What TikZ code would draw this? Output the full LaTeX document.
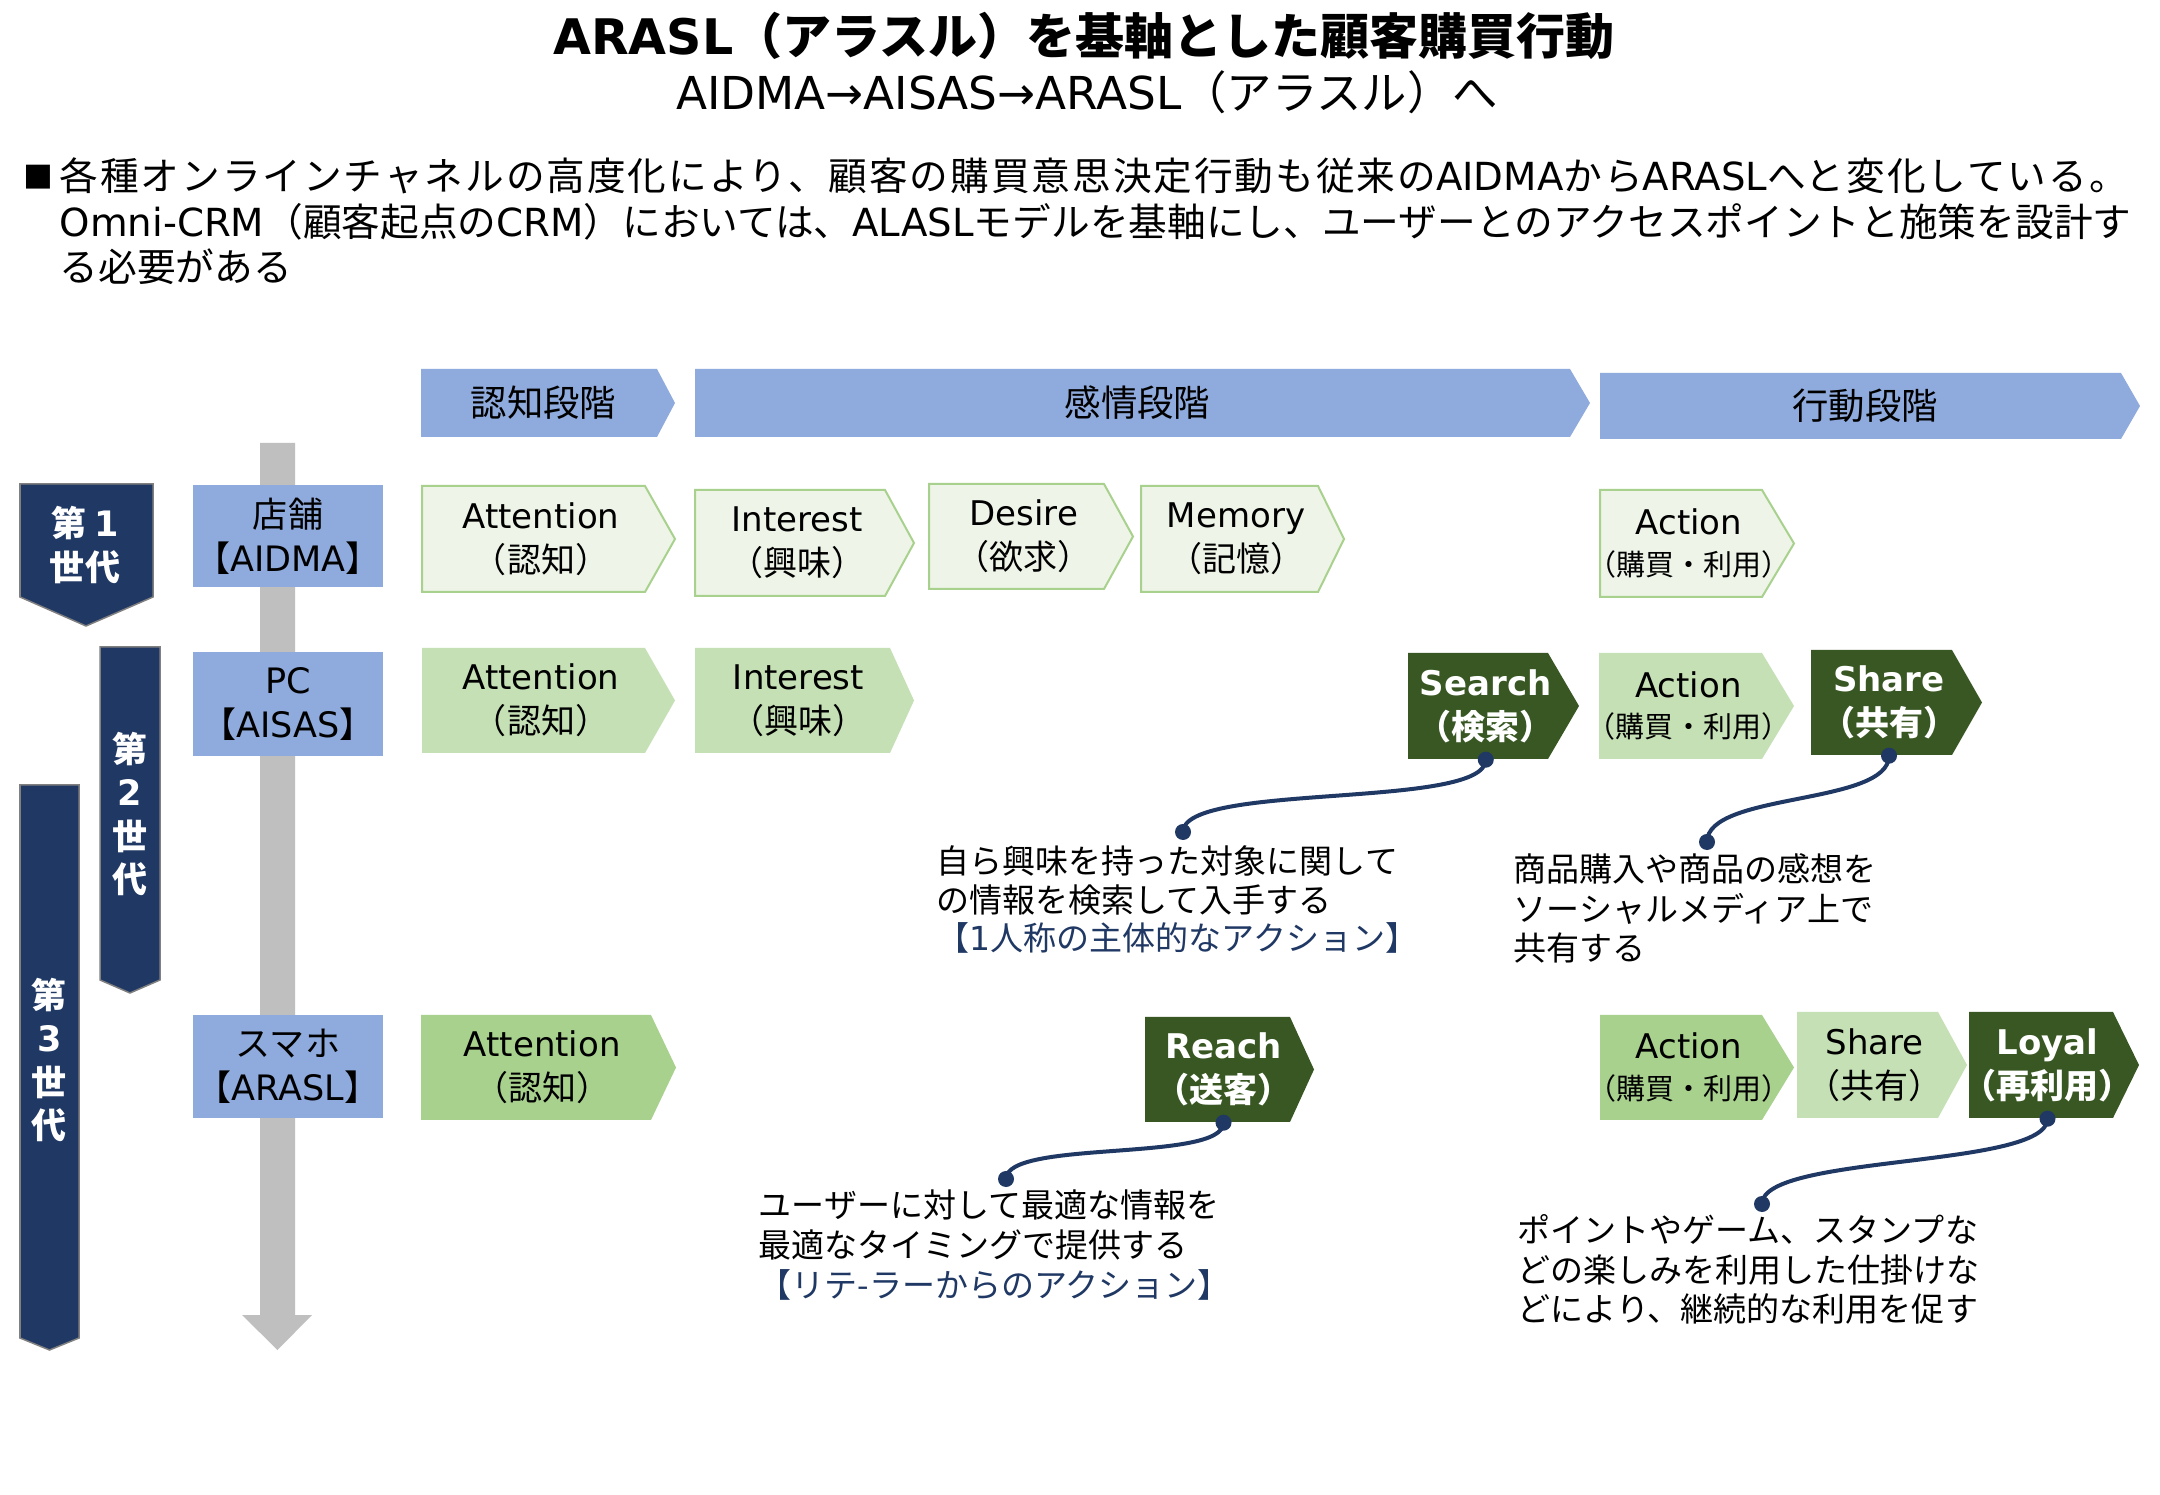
\documentclass[tikz,border=0pt]{standalone}
\usepackage{fontspec}
\setmainfont{Noto Sans CJK JP}
\newfontfamily\lat{DejaVu Sans}
\newfontfamily\jpwide[LetterSpace=5]{Noto Sans CJK JP}
\definecolor{hdrblue}{HTML}{8FAADC}
\definecolor{navy}{HTML}{203864}
\definecolor{garrow}{HTML}{BFBFBF}
\definecolor{liteg}{HTML}{EEF5E8}
\definecolor{midg}{HTML}{C5E0B4}
\definecolor{grn}{HTML}{A9D18E}
\definecolor{darkg}{HTML}{385723}
% #1 name, #2 shape style, #3 text style, #4 x1, #5 y1, #6 x body end, #7 x tip, #8 y2, #9 text
\newcommand\chev[9]{%
  \path[#2] (#4,#5) -- (#6,#5) -- (#7,{(#5+#8)/2}) -- (#6,#8) -- (#4,#8) -- cycle;
  \node[#3, minimum height={(#8-#5)*0.01cm}] (#1) at ({(#4+(#6+#7)/2)/2},{(#5+#8)/2}) {#9};
}
\begin{document}
\begin{tikzpicture}[x=0.01cm, y=-0.01cm,
  hdr/.style={fill=hdrblue},
  lite/.style={fill=liteg, draw=grn, line width=0.02cm},
  mid/.style={fill=midg},
  grn3/.style={fill=grn},
  dk/.style={fill=darkg},
  ct/.style={inner sep=0pt, align=center, font=\fontsize{9.67pt}{12.5pt}\selectfont},
  ctw/.style={inner sep=0pt, align=center, text=white, font=\fontsize{9.67pt}{12.5pt}\selectfont\bfseries},
  act/.style={inner sep=0pt, align=center, font=\fontsize{9.67pt}{11.4pt}\selectfont},
  ht/.style={inner sep=0pt, align=center, font=\fontsize{10.35pt}{12pt}\selectfont},
  chan/.style={fill=hdrblue, inner sep=0pt, minimum width=1.9cm, align=center, font=\fontsize{9.96pt}{12.5pt}\selectfont},
  gen/.style={fill=navy, draw=gray, line width=0.015cm},
  gt/.style={text=white, inner sep=0pt, align=center, font=\fontsize{9.96pt}{12.3pt}\selectfont\bfseries},
  desc/.style={anchor=base west, inner sep=0pt, font=\fontsize{9.39pt}{11pt}\selectfont},
  intro/.style={anchor=base west, inner sep=0pt, font=\fontsize{11pt}{13pt}\selectfont},
  conn/.style={draw=navy, line width=0.04cm},
  dot/.style={fill=navy}
]
\useasboundingbox (0,0) rectangle (2160,1495);
\fill[white] (0,0) rectangle (2160,1495);

% title
\node[anchor=base, inner sep=0pt, font=\fontsize{13.94pt}{16pt}\selectfont\bfseries] (title) at (1084,55) {{\lat ARASL}（アラスル）を基軸とした顧客購買行動};
\node[anchor=base, inner sep=0pt, font=\fontsize{12.9pt}{14pt}\selectfont] (subtitle) at (1087,110) {{\lat AIDMA→AISAS→ARASL}（アラスル）へ};

% intro
\node[inner sep=0pt, font=\fontsize{8.5pt}{10pt}\selectfont] (bullet) at (38,177) {■};
\node[intro] (intro1) at (59,191) {\jpwide 各種オンラインチャネルの高度化により、顧客の購買意思決定行動も従来の{\lat AIDMA}から{\lat ARASL}へと変化している。};
\node[intro] (intro2) at (59,237) {{\lat Omni-CRM}（顧客起点の{\lat CRM}）においては、{\lat ALASL}モデルを基軸にし、ユーザーとのアクセスポイントと施策を設計す};
\node[intro] (intro3) at (59,282) {る必要がある};

% stage headers
\chev{h1}{hdr}{ht}{421}{369}{657}{675}{437}{認知段階}
\chev{h2}{hdr}{ht}{695}{369}{1570}{1590}{437}{感情段階}
\chev{h3}{hdr}{ht}{1600}{373}{2121}{2140}{439}{行動段階}

% grey time arrow
\fill[garrow] (260,443) -- (295,443) -- (295,1315) -- (312,1315) -- (277.5,1350) -- (242,1315) -- (260,1315) -- cycle;

% generations
\path[gen] (20,484) -- (153,484) -- (153,597) -- (86,626) -- (20,597) -- cycle;
\node[gt, font=\fontsize{9.96pt}{12.5pt}\selectfont\bfseries] (g1) at (85,545) {第 {\lat 1}\\世代};
\path[gen] (100,647) -- (160,647) -- (160,980) -- (130,993) -- (100,980) -- cycle;
\node[gt] (g2) at (130,814) {第\\{\lat 2}\\世\\代};
\path[gen] (20,785) -- (79,785) -- (79,1338) -- (49.5,1350) -- (20,1338) -- cycle;
\node[gt] (g3) at (49.5,1060) {第\\{\lat 3}\\世\\代};

% channels
\node[chan, minimum height=1.02cm] (ch1) at (288,536) {店舗\\【{\lat AIDMA}】};
\node[chan, minimum height=1.04cm] (ch2) at (288,704) {{\lat PC}\\【{\lat AISAS}】};
\node[chan, minimum height=1.03cm] (ch3) at (288,1066.5) {スマホ\\【{\lat ARASL}】};

% row 1 AIDMA
\chev{a1}{lite}{ct}{422}{486}{645}{675}{592}{{\lat Attention}\\（認知）}
\chev{i1}{lite}{ct}{695}{490}{885}{914}{596}{{\lat Interest}\\（興味）}
\chev{d1}{lite}{ct}{929}{484}{1104}{1133}{589}{{\lat Desire}\\（欲求）}
\chev{m1}{lite}{ct}{1141}{486}{1318}{1344}{592}{{\lat Memory}\\（記憶）}
\chev{ac1}{lite}{act}{1600}{490}{1762}{1794}{597}{{\lat Action}\\{\fontsize{8.25pt}{11.4pt}\selectfont （購買・利用）}}

% row 2 AISAS
\chev{a2}{mid}{ct}{422}{648}{645}{675}{753}{{\lat Attention}\\（認知）}
\chev{i2}{mid}{ct}{695}{648}{890}{914}{753}{{\lat Interest}\\（興味）}
\chev{s2}{dk}{ctw}{1408}{653}{1548}{1579}{759}{{\lat Search}\\（検索）}
\chev{ac2}{mid}{act}{1599}{653}{1762}{1794}{759}{{\lat Action}\\{\fontsize{8.25pt}{11.4pt}\selectfont （購買・利用）}}
\chev{sh2}{dk}{ctw}{1811}{650}{1952}{1982}{755}{{\lat Share}\\（共有）}

% row 3 ARASL
\chev{a3}{grn3}{ct}{421}{1015}{651}{676}{1120}{{\lat Attention}\\（認知）}
\chev{r3}{dk}{ctw}{1145}{1017}{1290}{1314}{1122}{{\lat Reach}\\（送客）}
\chev{ac3}{grn3}{act}{1600}{1015}{1762}{1794}{1120}{{\lat Action}\\{\fontsize{8.25pt}{11.4pt}\selectfont （購買・利用）}}
\chev{sh3}{mid}{ct}{1797}{1012}{1938}{1967}{1118}{{\lat Share}\\（共有）}
\chev{l3}{dk}{ctw}{1969}{1012}{2113}{2139}{1118}{{\lat Loyal}\\（再利用）}

% connectors
\coordinate (s2end) at (1183,832);
\coordinate (sh2end) at (1707,842);
\coordinate (r3end) at (1006,1179);
\coordinate (l3end) at (1762,1204);
\draw[conn] (s2.south) .. controls +(0,50) and +(0,-50) .. (s2end);
\draw[conn] (sh2.south) .. controls +(0,50) and +(0,-50) .. (sh2end);
\draw[conn] (r3.south) .. controls +(0,40) and +(0,-40) .. (r3end);
\draw[conn] (l3.south) .. controls +(0,50) and +(0,-50) .. (l3end);
\foreach \p in {s2.south, sh2.south, r3.south, l3.south, s2end, sh2end, r3end, l3end}
  \fill[dot] (\p) circle[radius=0.08cm];

% descriptions
\node[desc] (sd1) at (936,873.5) {自ら興味を持った対象に関して};
\node[desc] (sd2) at (936,912.5) {の情報を検索して入手する};
\node[desc, text=navy] (sd3) at (936,950.5) {【{\lat 1}人称の主体的なアクション】};

\node[desc] (shd1) at (1513,881.5) {商品購入や商品の感想を};
\node[desc] (shd2) at (1513,921.5) {ソーシャルメディア上で};
\node[desc] (shd3) at (1513,960.5) {共有する};

\node[desc] (rd1) at (758,1217.5) {ユーザーに対して最適な情報を};
\node[desc] (rd2) at (758,1257.5) {最適なタイミングで提供する};
\node[desc, text=navy] (rd3) at (758,1297.5) {【リテ-ラーからのアクション】};

\node[desc] (ld1) at (1517,1242.5) {ポイントやゲーム、スタンプな};
\node[desc] (ld2) at (1517,1282.5) {どの楽しみを利用した仕掛けな};
\node[desc] (ld3) at (1517,1321.5) {どにより、継続的な利用を促す};
\end{tikzpicture}
\end{document}
